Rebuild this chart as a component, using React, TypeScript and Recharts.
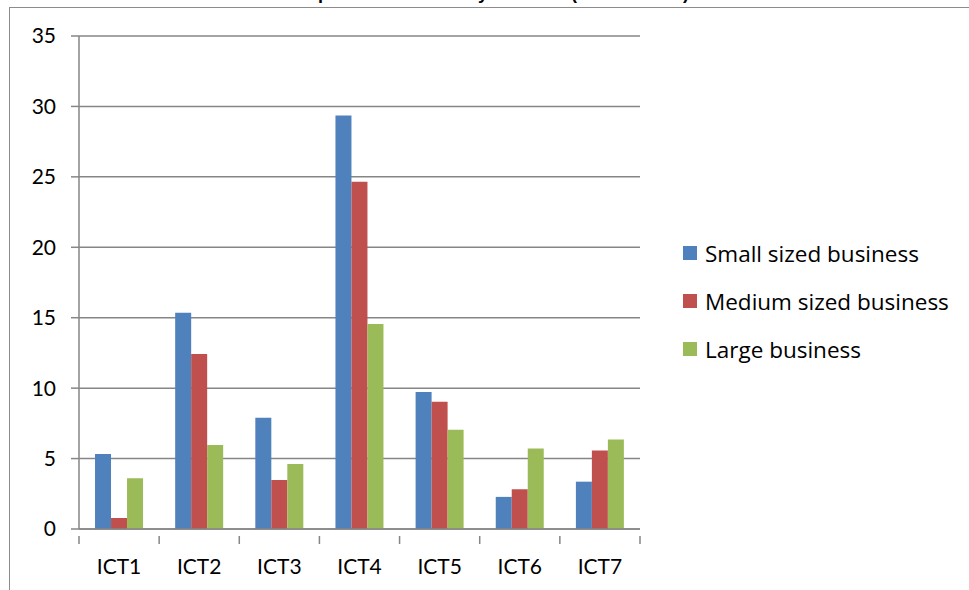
import { BarChart, Bar, XAxis, YAxis, CartesianGrid } from "recharts";

const categories = ["ICT1", "ICT2", "ICT3", "ICT4", "ICT5", "ICT6", "ICT7"];
const small = [5.33, 15.36, 7.9, 29.35, 9.72, 2.28, 3.36];
const medium = [0.78, 12.42, 3.48, 24.65, 9.03, 2.82, 5.57];
const large = [3.6, 5.97, 4.62, 14.55, 7.04, 5.71, 6.35];
const yTicks = [0, 5, 10, 15, 20, 25, 30, 35];

const series = [
  { key: "small", name: "Small sized business", color: "#4F81BD" },
  { key: "medium", name: "Medium sized business", color: "#C0504D" },
  { key: "large", name: "Large business", color: "#9BBB59" },
];

const data = categories.map((name, i) => ({
  name,
  small: small[i],
  medium: medium[i],
  large: large[i],
}));

const FONT = "Lato, 'Open Sans', sans-serif";
const AXIS = "#868686";

function CategoryTick(props: any) {
  const { x, y, payload, index, visibleTicksCount } = props;
  const half = payload && payload.offset ? payload.offset : 40;
  const isLast = index === visibleTicksCount - 1;
  return (
    <g>
      <line x1={x - half} x2={x - half} y1={y - 1} y2={y + 7} stroke={AXIS} strokeWidth={1.5} />
      {isLast && <line x1={x + half} x2={x + half} y1={y - 1} y2={y + 7} stroke={AXIS} strokeWidth={1.5} />}
      <text x={x} y={y + 37} textAnchor="middle" fontSize={21} fill="#000" fontFamily={FONT}>
        {payload.value}
      </text>
    </g>
  );
}

function LegendBox() {
  return (
    <div
      style={{
        position: "absolute",
        left: 683,
        top: 229,
        fontFamily: "'Open Sans', sans-serif",
        fontSize: 22.5,
        color: "#000",
      }}
    >
      {series.map((s) => (
        <div key={s.key} style={{ display: "flex", alignItems: "center", height: 48, whiteSpace: "nowrap" }}>
          <div style={{ width: 14, height: 14, background: s.color, marginRight: 8 }} />
          <span>{s.name}</span>
        </div>
      ))}
    </div>
  );
}

export default function App() {
  return (
    <div
      style={{
        position: "absolute",
        left: 0,
        top: 0,
        width: 969,
        height: 590,
        overflow: "hidden",
        background: "#fff",
      }}
    >
      <div
        style={{
          position: "absolute",
          left: 0,
          width: 976,
          top: -17,
          textAlign: "center",
          fontFamily: "'Liberation Sans', Arial, sans-serif",
          fontWeight: "bold",
          fontSize: 18,
          lineHeight: "20px",
        }}
      >
        Graph 1: % variation by firm size (all countries)
      </div>
      <div
        style={{
          position: "absolute",
          left: 9,
          top: 7,
          width: 1000,
          height: 1000,
          borderLeft: "1.5px solid #8c8c8c",
          borderTop: "1.5px solid #8c8c8c",
        }}
      />
      <div style={{ position: "absolute", left: 0, top: 0 }}>
        <BarChart
          width={969}
          height={590}
          data={data}
          margin={{ top: 36, right: 329, left: 0, bottom: 21 }}
          barCategoryGap="20%"
          barGap={0}
        >
          <CartesianGrid vertical={false} stroke={AXIS} strokeWidth={1.5} />
          <YAxis
            domain={[0, 35]}
            ticks={yTicks}
            width={79}
            interval={0}
            axisLine={{ stroke: AXIS, strokeWidth: 1.5 }}
            tickLine={{ stroke: AXIS, strokeWidth: 1.5 }}
            tickSize={8}
            tickMargin={15}
            tick={{ fontSize: 21, fill: "#000", fontFamily: FONT }}
          />
          <XAxis
            dataKey="name"
            height={40}
            interval={0}
            axisLine={{ stroke: AXIS, strokeWidth: 1.5 }}
            tickLine={false}
            tick={<CategoryTick />}
          />
          {series.map((s) => (
            <Bar key={s.key} dataKey={s.key} name={s.name} fill={s.color} isAnimationActive={false} />
          ))}
        </BarChart>
      </div>
      <LegendBox />
    </div>
  );
}
